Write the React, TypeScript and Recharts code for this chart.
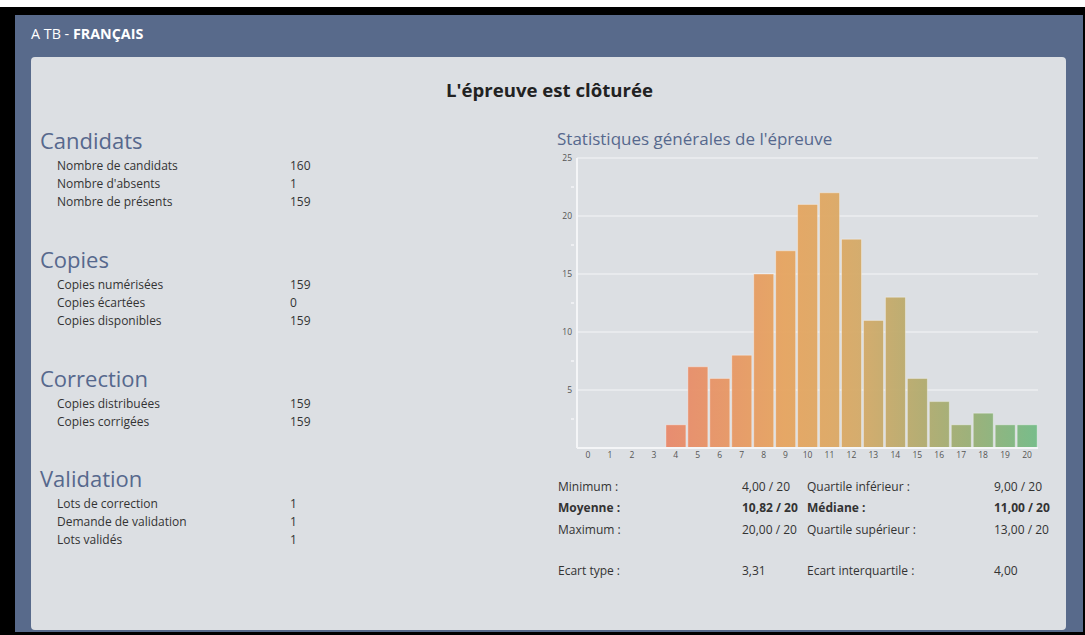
import { BarChart, Bar, XAxis, YAxis, CartesianGrid } from 'recharts';

const notes = ['0', '1', '2', '3', '4', '5', '6', '7', '8', '9', '10', '11', '12', '13', '14', '15', '16', '17', '18', '19', '20'];
const counts = [0, 0, 0, 0, 2, 7, 6, 8, 15, 17, 21, 22, 18, 11, 13, 6, 4, 2, 3, 2, 2];
const yTicks = [0, 2.5, 5, 7.5, 10, 12.5, 15, 17.5, 20, 22.5, 25];

const candidats = [['Nombre de candidats', '160'], ["Nombre d'absents", '1'], ['Nombre de présents', '159']];
const copies = [['Copies numérisées', '159'], ['Copies écartées', '0'], ['Copies disponibles', '159']];
const correction = [['Copies distribuées', '159'], ['Copies corrigées', '159']];
const validation = [['Lots de correction', '1'], ['Demande de validation', '1'], ['Lots validés', '1']];

const statsLeft = [['Minimum :', '4,00 / 20'], ['Moyenne :', '10,82 / 20'], ['Maximum :', '20,00 / 20'], ['Ecart type :', '3,31']];
const statsRight = [['Quartile inférieur :', '9,00 / 20'], ['Médiane :', '11,00 / 20'], ['Quartile supérieur :', '13,00 / 20'], ['Ecart interquartile :', '4,00']];
const statsTops = [478, 499, 521, 562];

const BLUE = '#586a8b';
const HEAD = '#56688d';
const TEXT = '#333';

const chartData = notes.map((n, i) => ({ note: n, count: counts[i] }));

const Section = ({ title, rows, top }: { title: string; rows: string[][]; top: number }) => (
  <div style={{ position: 'absolute', left: 40, top }}>
    <div style={{ fontSize: 22, color: HEAD, lineHeight: '28px', height: 31 }}>{title}</div>
    {rows.map(([k, v]) => (
      <div key={k} style={{ position: 'relative', height: 18, lineHeight: '18px', fontSize: 12, color: TEXT }}>
        <span style={{ position: 'absolute', left: 17, whiteSpace: 'nowrap' }}>{k}</span>
        <span style={{ position: 'absolute', left: 250 }}>{v}</span>
      </div>
    ))}
  </div>
);

// libellés tous les 5, petits traits aux demi-graduations
const YTick = ({ x, y, payload }: any) => {
  const v = payload.value;
  if (v === 0) return null;
  if (v % 5 !== 0) {
    return <line x1={x + 2} x2={x + 5} y1={y} y2={y} stroke="#f4f5f7" strokeWidth={1.5} />;
  }
  return (
    <text x={x + 3} y={y} dy={3} textAnchor="end" fontSize={8.5} fill="#555" fontFamily="Open Sans">
      {v}
    </text>
  );
};

const Histogram = () => (
  <BarChart width={500} height={320} data={chartData} margin={{ top: 8, right: 2, bottom: 0, left: 0 }} barCategoryGap="5%">
    <defs>
      <linearGradient id="noteGrad" gradientUnits="userSpaceOnUse" x1="37" y1="0" x2="498" y2="0">
        <stop offset="0" stopColor="#e5766f" />
        <stop offset="0.2" stopColor="#e8896a" />
        <stop offset="0.45" stopColor="#e6a45f" />
        <stop offset="0.55" stopColor="#dea863" />
        <stop offset="0.62" stopColor="#d3aa68" />
        <stop offset="0.75" stopColor="#b2ab6e" />
        <stop offset="0.86" stopColor="#98af76" />
        <stop offset="1" stopColor="#72bb86" />
      </linearGradient>
    </defs>
    <CartesianGrid vertical={false} horizontalValues={[5, 10, 15, 20, 25]} stroke="#f4f5f7" strokeWidth={1} />
    <XAxis
      dataKey="note"
      axisLine={{ stroke: '#f4f5f7', strokeWidth: 2 }}
      tickLine={false}
      tick={{ fontSize: 8.5, fill: '#555', fontFamily: 'Open Sans', dy: -4 }}
      interval={0}
      height={22}
      tickMargin={2}
    />
    <YAxis
      width={37}
      domain={[0, 25]}
      ticks={yTicks}
      axisLine={{ stroke: '#f4f5f7', strokeWidth: 2 }}
      tickLine={false}
      tick={<YTick />}
      interval={0}
    />
    <YAxis
      yAxisId="right"
      orientation="right"
      width={0}
      domain={[0, 25]}
      tick={false}
      tickLine={false}
      axisLine={{ stroke: '#f4f5f7', strokeWidth: 1 }}
    />
    <Bar dataKey="count" fill="url(#noteGrad)" fillOpacity={0.95} stroke="rgba(255,255,255,0.35)" strokeWidth={1} isAnimationActive={false} />
  </BarChart>
);

const App = () => (
  <div style={{ position: 'relative', width: 1085, height: 635, background: '#fff', fontFamily: 'Open Sans', overflow: 'hidden' }}>
    <style>{'body{margin:0}'}</style>
    <div style={{ position: 'absolute', left: 0, top: 7, width: 1085, height: 628, background: '#000' }} />
    <div style={{ position: 'absolute', left: 15, top: 15, width: 1068, height: 617, background: BLUE }} />
    <div style={{ position: 'absolute', left: 31, top: 24, fontSize: 14.3, color: '#fff', lineHeight: '20px' }}>
      A TB - <b>FRANÇAIS</b>
    </div>
    <div style={{ position: 'absolute', left: 31, top: 57, width: 1035, height: 573, background: '#dcdfe3', borderRadius: 4 }} />
    <div style={{ position: 'absolute', left: 32, width: 1035, top: 77, textAlign: 'center', fontSize: 18.6, fontWeight: 700, color: '#222', lineHeight: '26px' }}>
      L'épreuve est clôturée
    </div>

    <Section title="Candidats" rows={candidats} top={126} />
    <Section title="Copies" rows={copies} top={245} />
    <Section title="Correction" rows={correction} top={364} />
    <Section title="Validation" rows={validation} top={464} />

    <div style={{ position: 'absolute', left: 557, top: 127, fontSize: 17, color: HEAD, lineHeight: '24px' }}>
      Statistiques générales de l'épreuve
    </div>
    <div style={{ position: 'absolute', left: 540, top: 150 }}>
      <Histogram />
    </div>

    {statsLeft.map(([k, v], i) => (
      <div key={k} style={{ position: 'absolute', top: statsTops[i], left: 558, fontSize: 12, lineHeight: '18px', color: TEXT, fontWeight: i === 1 ? 700 : 400, whiteSpace: 'nowrap' }}>
        <span>{k}</span>
        <span style={{ position: 'absolute', left: 184 }}>{v}</span>
      </div>
    ))}
    {statsRight.map(([k, v], i) => (
      <div key={k} style={{ position: 'absolute', top: statsTops[i], left: 807, fontSize: 12, lineHeight: '18px', color: TEXT, fontWeight: i === 1 ? 700 : 400, whiteSpace: 'nowrap' }}>
        <span>{k}</span>
        <span style={{ position: 'absolute', left: 187 }}>{v}</span>
      </div>
    ))}
  </div>
);

export default App;
